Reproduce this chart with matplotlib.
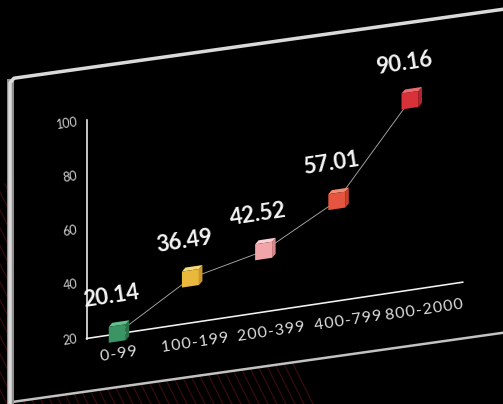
import numpy as np
import matplotlib
matplotlib.use("Agg")
import matplotlib.pyplot as plt
from matplotlib.patches import Polygon
from matplotlib.lines import Line2D
from matplotlib.transforms import Affine2D, IdentityTransform, ScaledTranslation, blended_transform_factory

# data
categories = ['0-99', '100-199', '200-399', '400-799', '800-2000']
values = [20.14, 36.49, 42.52, 57.01, 90.16]
y_ticks = [20, 40, 60, 80, 100]
front_colors = ['#3b9463', '#e9b83c', '#f1a5a9', '#e6553f', '#d9313a']
top_colors = ['#63c28c', '#f7da74', '#fad0d2', '#f38b76', '#ec6a70']
side_colors = ['#2a7049', '#c9982a', '#d9878b', '#c4412f', '#b5232b']

W, H = 503, 404
PX = 0.72          # points per pixel at dpi 100
x0 = 86.5          # shear pivot (y axis position)
k = 0.1497         # slope of the chart plane
kb = 0.141         # slope of the board

fig = plt.figure(figsize=(W / 100, H / 100), dpi=100, facecolor='black')
ax = fig.add_axes([x0 / W, 65.5 / H, (462.7 - x0) / W, 216.5 / H])
ax.set_xlim(-0.42, 4.72)
ax.set_ylim(20, 100)
ax.axis('off')
ax.patch.set_visible(False)

shear = Affine2D().translate(-x0, 0).skew(0, np.arctan(k)).translate(x0, 0)
bshear = Affine2D().translate(-x0, 0).skew(0, np.arctan(kb)).translate(x0, 0)
tdata = ax.transData + shear
taxes = ax.transAxes + shear
tyax = blended_transform_factory(ax.transAxes, ax.transData) + shear
tboard = IdentityTransform() + bshear
ang = np.degrees(np.arctan(k))

# background stripes (behind the board)
for c in range(-20, 320, 9):
    fig.add_artist(Line2D([c, c - 110], [0, 220], transform=IdentityTransform(),
                          color='#360b0b', lw=1.3 * PX, zorder=-5))

# board
fig.add_artist(Polygon([(10, 12.5), (10, 337), (620, 337), (620, 12.5)], closed=True,
                       facecolor='black', edgecolor='none', transform=tboard, zorder=-4))
fig.add_artist(Line2D([12, 620], [12.5, 12.5], transform=tboard,
                      color='#c2c2c2', lw=2.5 * PX, zorder=-3))
fig.add_artist(Line2D([10, 10], [12, 333], transform=tboard,
                      color='#8e8e8e', lw=7 * PX, zorder=-3))
fig.add_artist(Line2D([10, 10, 14, 620], [12, 332, 336, 336], transform=tboard,
                      color='#dadada', lw=3.5 * PX, solid_joinstyle='round', zorder=-2))

# axes lines
ax.plot([0, 0], [0, 1.01], transform=taxes, color='#f2f2f2', lw=1.6 * PX, clip_on=False, zorder=2)
ax.plot([0, 1], [0, 0], transform=taxes, color='#f2f2f2', lw=1.6 * PX, clip_on=False, zorder=2)

# y tick labels
for t in y_ticks:
    ax.text(0, t, str(t), transform=tyax + Affine2D().translate(-9, 0),
            ha='right', va='center', rotation=ang, rotation_mode='anchor',
            fontsize=9, family='Lato', color='#cfcfcf', clip_on=False)

# x tick labels (slightly wider spread, as on the board)
spread = Affine2D().translate(-x0, 0).scale(1.045, 1).translate(x0, 0)
for i, c in enumerate(categories):
    ax.text(i, 20, '\u200a'.join(c), transform=tdata + spread + Affine2D().translate(0, -20),
            ha='center', va='center', rotation=ang, rotation_mode='anchor',
            fontsize=11.5, family=['Lato', 'DejaVu Sans'], color='#dedede', clip_on=False)

# connecting line
ax.plot(range(len(values)), values, transform=tdata, color='#a8a8a8',
        lw=0.9 * PX, clip_on=False, zorder=3)

# cubes
front = [(-8.5, -8), (8.5, -8), (8.5, 8), (-8.5, 8)]
top = [(-8.5, 8), (8.5, 8), (12, 11.5), (-5, 11.5)]
side = [(8.5, -8), (12, -4.5), (12, 11.5), (8.5, 8)]
for i, v in enumerate(values):
    tc = Affine2D().skew(0, np.arctan(k)) + ScaledTranslation(i, v, tdata)
    for verts, col in ((side, side_colors[i]), (top, top_colors[i]), (front, front_colors[i])):
        ax.add_patch(Polygon(verts, closed=True, facecolor=col, edgecolor='none',
                             transform=tc, clip_on=False, zorder=4))

# value labels
for i, v in enumerate(values):
    ax.text(i, v, f'{v:.2f}', transform=tdata + Affine2D().translate(-6, 37),
            ha='center', va='center', rotation=ang, rotation_mode='anchor',
            fontsize=16, family='Lato', weight='bold', color='#f4f4f4',
            clip_on=False, zorder=5)

fig.savefig('out.png', dpi=100, facecolor='black')
